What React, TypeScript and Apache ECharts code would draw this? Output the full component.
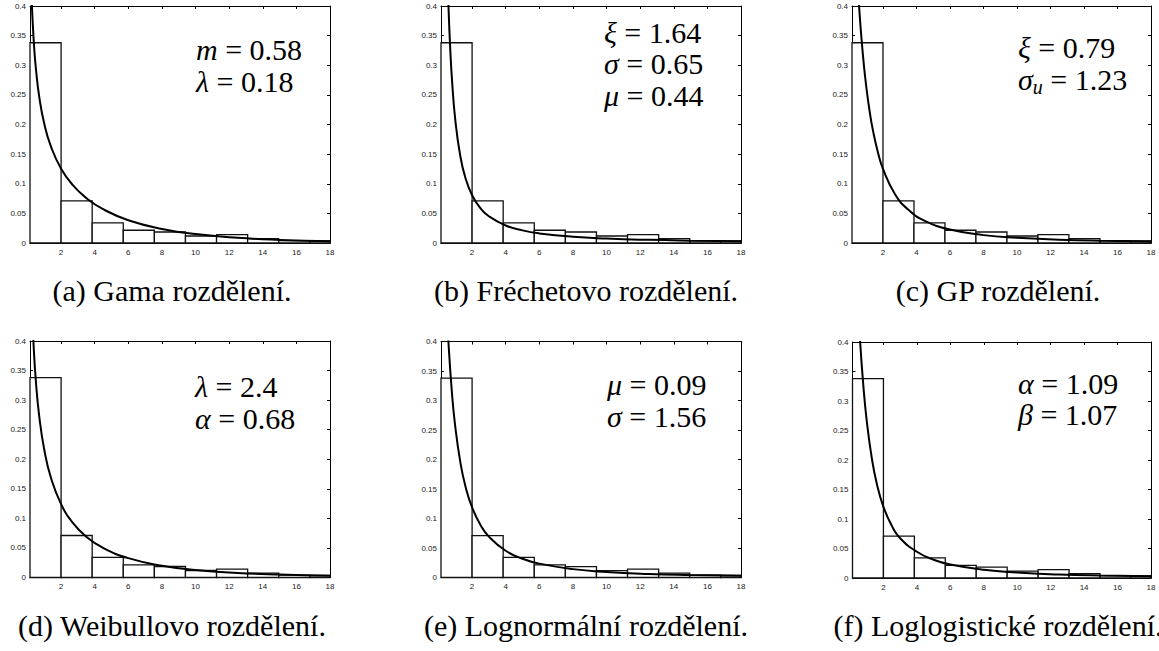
import React, { useEffect, useRef } from "react";
import * as echarts from "echarts";

// Histogram of the sample (density scale), identical in every panel
const BIN_EDGES = [0.15, 2.0, 3.85, 5.7, 7.55, 9.4, 11.25, 13.1, 14.95, 16.8, 18.65];
const BIN_DENSITY = [0.338, 0.071, 0.034, 0.0215, 0.0186, 0.0118, 0.0142, 0.0075, 0.004, 0.0034];

const X_MIN = 0.15;
const X_MAX = 18;
const X_TICKS = [2, 4, 6, 8, 10, 12, 14, 16, 18];
const Y_MAX = 0.4;
const Y_STEP = 0.05;

// Fitted densities
const GAMMA_X = [0.2, 0.25, 0.3, 0.4, 0.5, 0.7, 1, 1.4, 2, 2.7, 3.5, 4.5, 6, 8, 10, 12.5, 15, 18];
const GAMMA_Y = [0.457, 0.412, 0.378, 0.329, 0.2945, 0.2466, 0.2011, 0.1625, 0.1255, 0.0976, 0.0758, 0.057, 0.0385, 0.0238, 0.0151, 0.0088, 0.0052, 0.0028];

const FRECHET_X = [0.5, 0.55, 0.6, 0.7, 0.8, 1, 1.3, 1.6, 2, 2.5, 3, 4, 5, 6, 8, 10, 12.5, 15, 18];
const FRECHET_Y = [0.4898, 0.4383, 0.395, 0.3275, 0.277, 0.2077, 0.1464, 0.1102, 0.0807, 0.0587, 0.0452, 0.0296, 0.0213, 0.0162, 0.0105, 0.0075, 0.0053, 0.004, 0.003];

const GP_X = [0.3, 0.5, 0.6, 0.7, 0.85, 1, 1.2, 1.4, 1.7, 2, 2.7, 3.5, 4.5, 6, 8, 10, 12.5, 15, 18];
const GP_Y = [0.5454, 0.4325, 0.3884, 0.3506, 0.303, 0.2642, 0.2228, 0.1901, 0.1527, 0.125, 0.0832, 0.0564, 0.0374, 0.0227, 0.0133, 0.0087, 0.0056, 0.0038, 0.0026];

const WEIBULL_X = [0.25, 0.35, 0.5, 0.7, 1, 1.4, 2, 2.7, 3.5, 4.5, 6, 8, 10, 12.5, 15, 18];
const WEIBULL_Y = [0.4713, 0.4005, 0.3317, 0.2726, 0.216, 0.1683, 0.1242, 0.0923, 0.069, 0.05, 0.0327, 0.02, 0.0128, 0.0077, 0.0049, 0.0029];

const LOGNORMAL_X = [0.3, 0.45, 0.6, 0.8, 1, 1.3, 1.6, 2, 2.5, 3, 4, 5, 6, 8, 10, 12.5, 15, 18];
const LOGNORMAL_Y = [0.6043, 0.4832, 0.3958, 0.3133, 0.2553, 0.1955, 0.1552, 0.1187, 0.0889, 0.0692, 0.0453, 0.0318, 0.0235, 0.0142, 0.0094, 0.006, 0.0042, 0.0028];

const LOGLOGISTIC_X = [0.4, 0.6, 0.8, 1, 1.3, 1.6, 2, 2.5, 3, 4, 5, 6, 8, 10, 12.5, 15, 18];
const LOGLOGISTIC_Y = [0.5081, 0.4033, 0.3254, 0.2669, 0.204, 0.1603, 0.1206, 0.0884, 0.0674, 0.0445, 0.031, 0.0228, 0.0138, 0.0092, 0.006, 0.0042, 0.0029];

const CURVES = [
  [GAMMA_X, GAMMA_Y],
  [FRECHET_X, FRECHET_Y],
  [GP_X, GP_Y],
  [WEIBULL_X, WEIBULL_Y],
  [LOGNORMAL_X, LOGNORMAL_Y],
  [LOGLOGISTIC_X, LOGLOGISTIC_Y],
];

// Parameter labels: [symbol, subscript, value]
const PARAMS_GAMMA = [["m", "", "0.58"], ["λ", "", "0.18"]];
const PARAMS_FRECHET = [["ξ", "", "1.64"], ["σ", "", "0.65"], ["μ", "", "0.44"]];
const PARAMS_GP = [["ξ", "", "0.79"], ["σ", "u", "1.23"]];
const PARAMS_WEIBULL = [["λ", "", "2.4"], ["α", "", "0.68"]];
const PARAMS_LOGNORMAL = [["μ", "", "0.09"], ["σ", "", "1.56"]];
const PARAMS_LOGLOGISTIC = [["α", "", "1.09"], ["β", "", "1.07"]];
const PARAMS = [PARAMS_GAMMA, PARAMS_FRECHET, PARAMS_GP, PARAMS_WEIBULL, PARAMS_LOGNORMAL, PARAMS_LOGLOGISTIC];

const CAPTIONS = [
  "(a) Gama rozdělení.",
  "(b) Fréchetovo rozdělení.",
  "(c) GP rozdělení.",
  "(d) Weibullovo rozdělení.",
  "(e) Lognormální rozdělení.",
  "(f) Loglogistické rozdělení.",
];

// Page layout (pixels)
const GRIDS = [
  { left: 30, top: 6, width: 300, height: 237 },
  { left: 441, top: 6, width: 300, height: 237 },
  { left: 852, top: 6, width: 299, height: 237 },
  { left: 30, top: 341, width: 300, height: 236.5 },
  { left: 441, top: 341.5, width: 300, height: 236 },
  { left: 852.5, top: 342, width: 298.5, height: 236 },
];
const PARAM_POS = [
  { x: 196, y: 49, dy: 32.5 },
  { x: 604, y: 32, dy: 31.5 },
  { x: 1018, y: 47, dy: 32.5 },
  { x: 195, y: 386.5, dy: 31.5 },
  { x: 607, y: 384.5, dy: 31.5 },
  { x: 1018, y: 383, dy: 31.7 },
];
const CAPTION_POS = [
  { x: 172, y: 290 },
  { x: 586, y: 290 },
  { x: 998, y: 290 },
  { x: 172, y: 625 },
  { x: 586, y: 625 },
  { x: 998, y: 625 },
];

const SERIF = "'Liberation Serif', 'DejaVu Serif', serif";
const SANS = "'Liberation Sans', Arial, Helvetica, sans-serif";

function buildOption() {
  const grid: any[] = [];
  const xAxis: any[] = [];
  const yAxis: any[] = [];
  const series: any[] = [];
  const graphic: any[] = [];

  const histData = BIN_DENSITY.map((d, i) => [BIN_EDGES[i], BIN_EDGES[i + 1], d]);
  const axisLine = { show: true, onZero: false, lineStyle: { color: "#000", width: 1 } };

  GRIDS.forEach((g, i) => {
    grid.push({ ...g, show: false, containLabel: false });
    xAxis.push({
      type: "value", gridIndex: i, position: "bottom", min: X_MIN, max: X_MAX,
      axisLine,
      axisTick: { show: true, inside: true, length: 3, customValues: X_TICKS, lineStyle: { color: "#000" } },
      axisLabel: { show: true, customValues: X_TICKS, fontSize: 8, color: "#222", margin: 5, fontFamily: SANS },
      splitLine: { show: false },
    });
    xAxis.push({
      type: "value", gridIndex: i, position: "top", min: X_MIN, max: X_MAX,
      axisLine,
      axisTick: { show: true, inside: true, length: 3, customValues: X_TICKS, lineStyle: { color: "#000" } },
      axisLabel: { show: false },
      splitLine: { show: false },
    });
    yAxis.push({
      type: "value", gridIndex: i, position: "left", min: 0, max: Y_MAX, interval: Y_STEP,
      axisLine,
      axisTick: { show: true, inside: true, length: 3, lineStyle: { color: "#000" } },
      axisLabel: {
        show: true, fontSize: 8, color: "#222", margin: 4, fontFamily: SANS,
        formatter: (v: number) => String(+v.toFixed(2)),
      },
      splitLine: { show: false },
    });
    yAxis.push({
      type: "value", gridIndex: i, position: "right", min: 0, max: Y_MAX, interval: Y_STEP,
      axisLine,
      axisTick: { show: true, inside: true, length: 3, lineStyle: { color: "#000" } },
      axisLabel: { show: false },
      splitLine: { show: false },
    });

    series.push({
      type: "custom",
      xAxisIndex: i * 2,
      yAxisIndex: i * 2,
      data: histData,
      encode: { x: [0, 1], y: 2 },
      z: 2,
      renderItem: (params: any, api: any) => {
        const p0 = api.coord([api.value(0), api.value(2)]);
        const p1 = api.coord([api.value(1), 0]);
        const cs = params.coordSys;
        const shape = echarts.graphic.clipRectByRect(
          { x: p0[0], y: p0[1], width: p1[0] - p0[0], height: p1[1] - p0[1] },
          { x: cs.x, y: cs.y, width: cs.width, height: cs.height }
        );
        if (!shape) return null;
        return {
          type: "rect",
          shape,
          style: { fill: "#fff", stroke: "#111", lineWidth: 1.3 },
        };
      },
    });

    const [cx, cy] = CURVES[i];
    series.push({
      type: "line",
      xAxisIndex: i * 2,
      yAxisIndex: i * 2,
      data: cx.map((x, k) => [x, cy[k]]),
      showSymbol: false,
      symbol: "none",
      smooth: 0.5,
      clip: true,
      z: 3,
      lineStyle: { color: "#000", width: 2 },
    });

    const pp = PARAM_POS[i];
    PARAMS[i].forEach((p, k) => {
      const [sym, sub, val] = p;
      const text = sub ? `{v|${sym}}{s|${sub}}{n| = ${val}}` : `{v|${sym}}{n| = ${val}}`;
      graphic.push({
        type: "text",
        x: pp.x,
        y: pp.y + k * pp.dy,
        z: 10,
        style: {
          text,
          align: "left",
          verticalAlign: "middle",
          fill: "#000",
          rich: {
            v: { fontFamily: SERIF, fontStyle: "italic", fontSize: 30, lineHeight: 34, verticalAlign: "middle", fill: "#000" },
            s: { fontFamily: SERIF, fontStyle: "italic", fontSize: 20, lineHeight: 20, verticalAlign: "bottom", fill: "#000" },
            n: { fontFamily: SERIF, fontSize: 30, lineHeight: 34, verticalAlign: "middle", fill: "#000" },
          },
        },
      });
    });

    const cp = CAPTION_POS[i];
    graphic.push({
      type: "text",
      x: cp.x,
      y: cp.y,
      style: {
        text: CAPTIONS[i],
        align: "center",
        verticalAlign: "middle",
        fontFamily: SERIF,
        fontSize: 30,
        fill: "#000",
      },
    });
  });

  return {
    animation: false,
    backgroundColor: "#fff",
    grid,
    xAxis,
    yAxis,
    series,
    graphic,
  };
}

export default function App() {
  const ref = useRef<HTMLDivElement>(null);
  useEffect(() => {
    if (!ref.current) return;
    const chart = echarts.init(ref.current, undefined, { renderer: "svg" });
    chart.setOption(buildOption() as any);
    return () => chart.dispose();
  }, []);
  return (
    <div
      ref={ref}
      style={{ position: "fixed", left: 0, top: 0, width: 1159, height: 651, background: "#fff" }}
    />
  );
}
